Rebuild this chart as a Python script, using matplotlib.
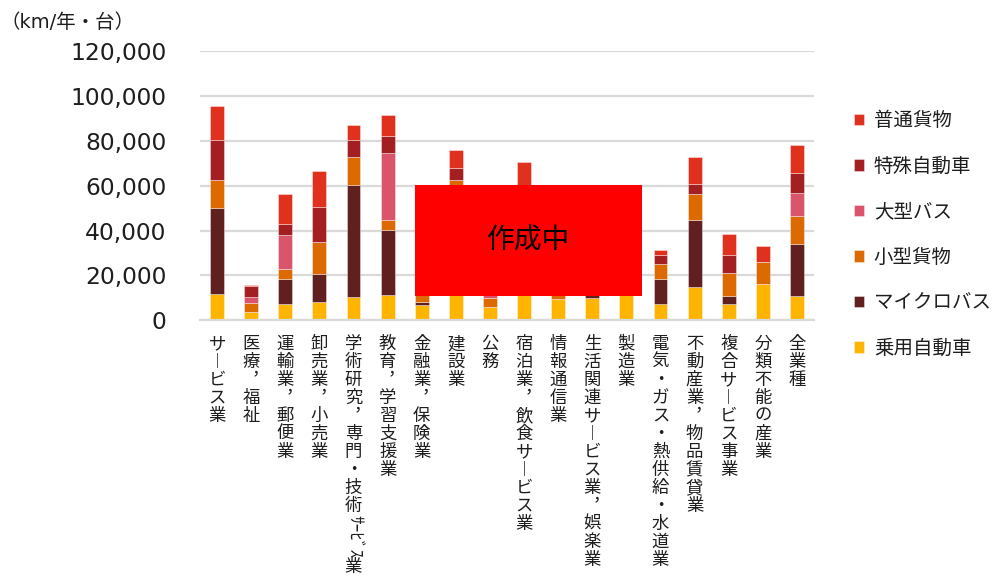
import numpy as np
import matplotlib
matplotlib.use("Agg")
import matplotlib.pyplot as plt
from matplotlib.patches import Rectangle

plt.rcParams['font.family'] = ['DejaVu Sans', 'Noto Sans CJK JP']

# ---- data -------------------------------------------------------------
categories = ['サービス業', '医療，福祉', '運輸業，郵便業', '卸売業，小売業',
              '学術研究，専門・技術ｻｰﾋﾞｽ業', '教育，学習支援業', '金融業，保険業',
              '建設業', '公務', '宿泊業，飲食サービス業', '情報通信業',
              '生活関連サービス業，娯楽業', '製造業', '電気・ガス・熱供給・水道業',
              '不動産業，物品賃貸業', '複合サービス事業', '分類不能の産業', '全業種']

passenger = [11700, 3600, 7400, 8000, 10500, 11400, 6950, 13000, 5900, 12000,
             9500, 9900, 12000, 7300, 14800, 7400, 16000, 10960]
microbus = [38200, 100, 10900, 12700, 49900, 29000, 1100, 36000, 0, 32000,
            0, 5000, 20000, 11300, 30000, 3400, 0, 23020]
small_cargo = [12500, 4100, 4700, 14000, 12300, 4300, 4500, 13500, 4100, 9000,
               5000, 5000, 8000, 6400, 11300, 10100, 9800, 12320]
large_bus = [0, 2400, 15000, 0, 0, 29800, 0, 0, 2000, 0,
             0, 0, 0, 0, 0, 0, 0, 10390]
special = [17800, 5100, 4800, 16000, 7700, 7700, 3000, 5500, 3000, 5650,
           5000, 4000, 6000, 4300, 4500, 8300, 0, 9050]
regular_cargo = [15300, 450, 13600, 16000, 6700, 9500, 5000, 7900, 5000, 12000,
                 8000, 6000, 9000, 2100, 12000, 9100, 7100, 12470]

series_names = ['乗用自動車', 'マイクロバス', '小型貨物', '大型バス', '特殊自動車', '普通貨物']
series_values = [passenger, microbus, small_cargo, large_bus, special, regular_cargo]
series_colors = ['#FFB400', '#612020', '#DC6A00', '#DA546B', '#A31F22', '#E0311F']

yticks = [0, 20000, 40000, 60000, 80000, 100000, 120000]
unit_label = '（km/年・台）'
overlay_text = '作成中'
# placeholder box extent (category units, km)
overlay_x = (5.795, 12.45)
overlay_y = (10960, 60270)

# ---- figure -----------------------------------------------------------
W, H = 995, 581
fig = plt.figure(figsize=(W / 100, H / 100), dpi=100)
ax = fig.add_axes([200 / W, 1 - 320.3 / H, 614 / W, (320.3 - 51) / H])

x = np.arange(len(categories))
bottom = np.zeros(len(categories))
handles = []
for name, vals, col in zip(series_names, series_values, series_colors):
    vals = np.array(vals, dtype=float)
    b = ax.bar(x, vals, width=0.41, bottom=bottom, color=col, label=name,
               edgecolor=(1, 1, 1, 0.45), linewidth=0.6, zorder=2)
    handles.append(b)
    bottom += vals

ax.set_xlim(-0.5, len(categories) - 0.5)
ax.set_ylim(yticks[0], yticks[-1])
ax.set_yticks(yticks)
ax.set_yticklabels([f'{v:,}' for v in yticks], fontsize=16.8, color='#1e1e1e')
ax.tick_params(axis='y', length=0, pad=24)
ax.set_xticks([])
ax.set_axisbelow(True)
ax.yaxis.grid(True, color='#D9D9D9', linewidth=1.6)
for s in ['top', 'right', 'left']:
    ax.spines[s].set_visible(False)
ax.spines['bottom'].set_color('#D9D9D9')
ax.spines['bottom'].set_linewidth(1.6)

# ---- vertical category labels ----------------------------------------
VERTICAL = {'，': '\ufe10', 'ー': '\ufe31'}
label_size = 12.5
pitch = 12.96      # points per character cell
start = 10.6       # gap below axis, points


def is_halfwidth_kana(ch):
    return '\uff61' <= ch <= '\uff9f'


def vertical_label(xpos, text):
    y = start
    i = 0
    while i < len(text):
        ch = text[i]
        if is_halfwidth_kana(ch):
            j = i
            while j < len(text) and is_halfwidth_kana(text[j]):
                j += 1
            run = text[i:j]
            ax.annotate(run, xy=(xpos, 0), xycoords=('data', 'axes fraction'),
                        xytext=(0, -y), textcoords='offset points',
                        rotation=-90, ha='center', va='top',
                        fontsize=label_size, family='Noto Sans CJK JP',
                        color='#1e1e1e', annotation_clip=False)
            y += len(run) * 0.5 * label_size
            i = j
        else:
            ax.annotate(VERTICAL.get(ch, ch), xy=(xpos, 0),
                        xycoords=('data', 'axes fraction'),
                        xytext=(0, -(y + pitch / 2)), textcoords='offset points',
                        ha='center', va='center', fontsize=label_size,
                        family='Noto Sans CJK JP', color='#1e1e1e',
                        annotation_clip=False)
            y += pitch
            i += 1


for xi, cat in zip(x, categories):
    vertical_label(xi, cat)

# ---- placeholder overlay ---------------------------------------------
ax.add_patch(Rectangle((overlay_x[0], overlay_y[0]), overlay_x[1] - overlay_x[0],
                       overlay_y[1] - overlay_y[0], facecolor='#FF0000',
                       edgecolor='none', zorder=5))
ax.text(np.mean(overlay_x), np.mean(overlay_y), overlay_text, ha='center',
        va='center', fontsize=20, family='Noto Sans CJK JP', color='black',
        zorder=6)

# ---- unit label --------------------------------------------------------
fig.text(1 / W, 1 - 22 / H, unit_label, ha='left', va='center', fontsize=14,
         family=['DejaVu Sans', 'Noto Sans CJK JP'], color='#1e1e1e')

# ---- legend ------------------------------------------------------------
leg = fig.legend(handles[::-1], series_names[::-1], loc='center left',
                 bbox_to_anchor=(854 / W, 1 - 234.5 / H), frameon=False,
                 borderpad=0, borderaxespad=0,
                 handlelength=0.52, handleheight=0.52, handletextpad=0.5,
                 labelspacing=1.26, prop={'family': 'Noto Sans CJK JP', 'size': 14})
for t in leg.get_texts():
    t.set_color('#1e1e1e')

fig.savefig('out.png', dpi=100)
